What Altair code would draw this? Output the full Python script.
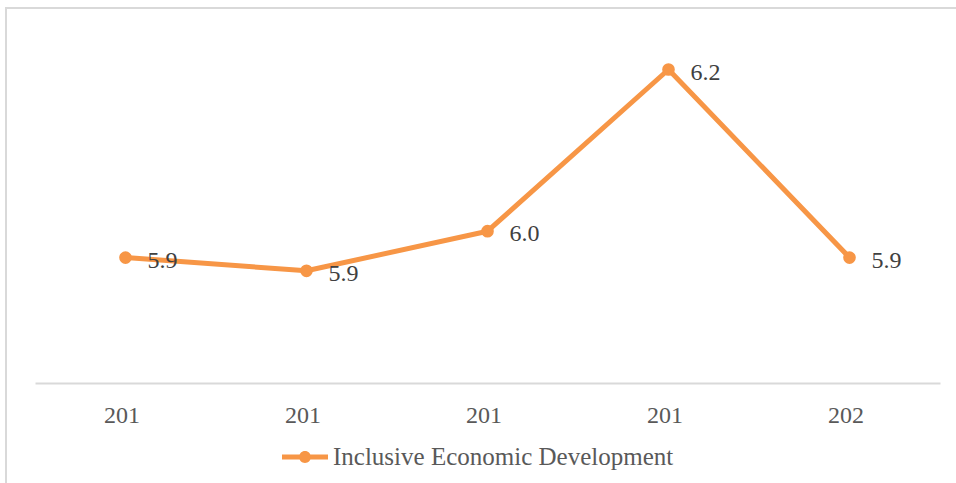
import altair as alt
import pandas as pd

# Data
tick_labels = ["201", "201", "201", "201", "202"]
values = [5.94, 5.92, 5.98, 6.225, 5.94]
series_name = "Inclusive Economic Development"

ORANGE = "#F79646"
FONT = "Liberation Serif"

df = pd.DataFrame({
    "idx": list(range(len(values))),
    "value": values,
    "series": [series_name] * len(values),
})

label_expr = "[" + ",".join("'%s'" % t for t in tick_labels) + "][datum.value]"

x_enc = alt.X(
    "idx:O",
    scale=alt.Scale(paddingInner=0, paddingOuter=0.5),
    axis=alt.Axis(
        title=None,
        labelExpr=label_expr,
        labelAngle=0,
        labelFont=FONT,
        labelFontSize=24,
        labelColor="#595959",
        labelBaseline="alphabetic",
        labelPadding=39,
        labelOffset=-4,
        ticks=False,
        tickSize=0,
        domainColor="#d9d9d9",
        domainWidth=2,
        grid=False,
    ),
)
y_enc = alt.Y(
    "value:Q",
    scale=alt.Scale(domain=[5.75, 6.30], zero=False, nice=False),
    axis=None,
)

base = alt.Chart(df).encode(x=x_enc, y=y_enc)

line = base.mark_line(color=ORANGE, strokeWidth=5, strokeJoin="round", strokeCap="round")

legend_symbol = (
    "M-1,-0.11L1,-0.11L1,0.11L-1,0.11Z"
    "M-0.26,0A0.26,0.26 0 1,1 0.26,0A0.26,0.26 0 1,1 -0.26,0Z"
)

points = base.mark_point(filled=True, size=160, opacity=1).encode(
    color=alt.Color(
        "series:N",
        scale=alt.Scale(range=[ORANGE]),
        legend=alt.Legend(
            title=None,
            orient="none",
            legendX=247,
            legendY=414,
            direction="horizontal",
            symbolType=legend_symbol,
            symbolSize=2116,
            symbolStrokeWidth=0,
            symbolOpacity=1,
            labelFont=FONT,
            labelFontSize=25,
            labelColor="#595959",
            labelOffset=5,
            labelLimit=0,
            padding=0,
        ),
    )
)

labels = base.mark_text(
    align="left", baseline="middle", dx=22, dy=3,
    font=FONT, fontSize=24, color="#404040",
).encode(text=alt.Text("value:Q", format=".1f"))

border = alt.Chart(pd.DataFrame({"a": [0]})).mark_rect(
    fillOpacity=0, stroke="#d9d9d9", strokeWidth=2
).encode(
    x=alt.value(-29), y=alt.value(-12), x2=alt.value(1000), y2=alt.value(700)
)

chart = alt.layer(border, line, points, labels).properties(
    width=905,
    height=363,
    autosize=alt.AutoSizeParams(type="none"),
    padding={"left": 35, "top": 20, "right": 16, "bottom": 100},
).configure(
    background="white",
    view=alt.ViewConfig(stroke=None),
)

chart.save("out.html", embed_options={"renderer": "svg", "actions": False})
